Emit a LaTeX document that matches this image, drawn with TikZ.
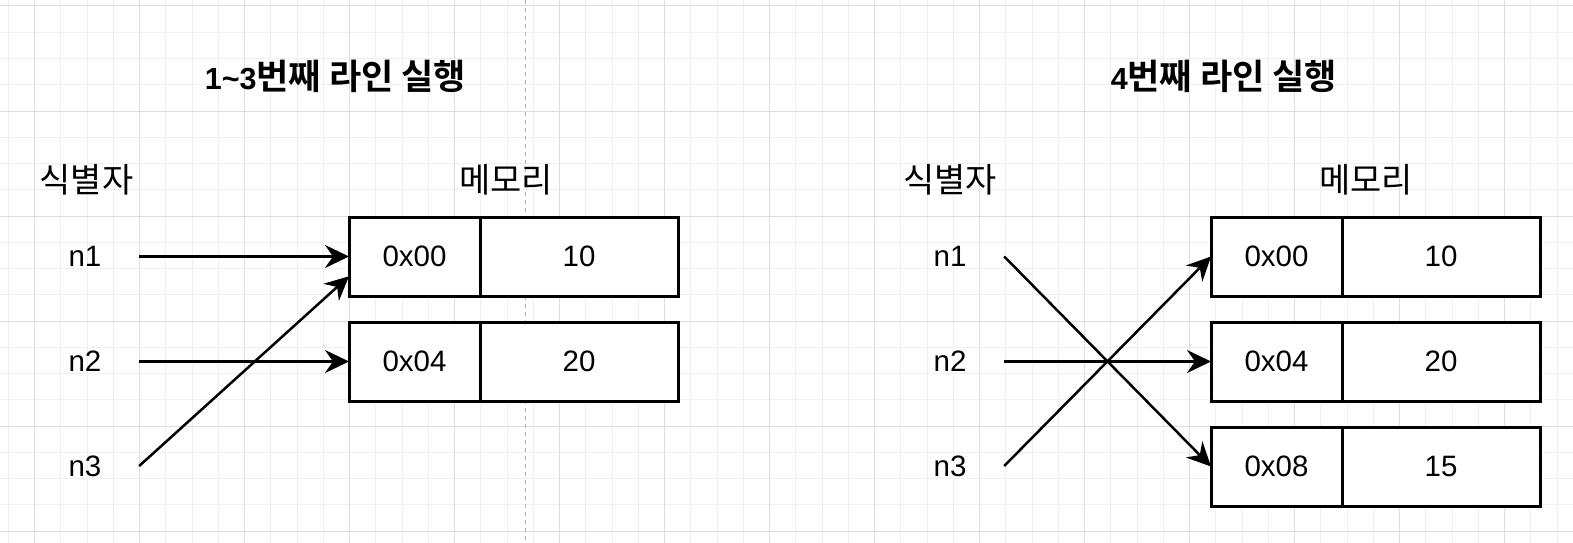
\documentclass[tikz,border=0pt]{standalone}
\usepackage{fontspec}
\setmainfont{Liberation Sans}
\newfontfamily\krfont{Noto Sans CJK KR}[Scale=1.15, BoldFont={Noto Sans CJK KR Bold}]
\usetikzlibrary{positioning,calc,arrows.meta}

\tikzset{
  texte/.style={font=\fontsize{29.5}{34}\selectfont, inner sep=0pt},
  titre/.style={font=\fontsize{30.5}{34}\selectfont\bfseries, inner sep=0pt},
  ident/.style={texte, minimum width=108pt, minimum height=30pt},
  cellule/.style={texte, draw, fill=white, line width=3pt, outer sep=0pt, minimum height=79pt},
  adresse/.style={cellule, minimum width=131pt},
  valeur/.style={cellule, minimum width=198pt},
  fleche/.style={line width=2.5pt, -{Stealth[length=24pt,width=23pt,inset=8pt]}},
  grillefine/.style={draw=black!6, line width=1pt},
  grille/.style={draw=black!13, line width=1pt},
}

\begin{document}
\begin{tikzpicture}[x=1pt, y=-1pt]

% Fond et grille
\fill[white] (0,0) rectangle (1573,543);
\useasboundingbox (0,0) rectangle (1573,543);
\foreach \i in {0,...,59} \draw[grillefine] (8.25+26.25*\i,0) -- ++(0,543);
\foreach \i in {0,...,20} \draw[grillefine] (0,6+26.25*\i) -- ++(1573,0);
\foreach \i in {0,...,14} \draw[grille] (34.25+105*\i,0) -- ++(0,543);
\foreach \i in {0,...,5} \draw[grille] (0,6+105*\i) -- ++(1573,0);

% Saut de page
\draw[black!30, line width=1pt, dash pattern=on 4pt off 4pt] (525.5,0) -- (525.5,543);

% Titres
\node[titre] (titregauche) at (335.5,76) {1\textasciitilde3{\krfont 번째 라인 실행}};
\node[titre] (titredroite) at (1224,76) {4{\krfont 번째 라인 실행}};

% Partie gauche
\node[texte] (gident) at (86.5,180) {\krfont 식별자};
\node[texte] (gmem) at (506,180) {\krfont 메모리};
\node[ident] (gn1) at (85,256.5) {n1};
\node[ident] (gn2) at (85,361.5) {n2};
\node[ident] (gn3) at (85,466) {n3};
\node[adresse] (ga1) at (414.5,256.5) {0x00};
\node[valeur, right=0pt of ga1] (gv1) {10};
\node[adresse] (ga2) at (414.5,361.5) {0x04};
\node[valeur, right=0pt of ga2] (gv2) {20};
\draw[fleche] (gn1.east) -- (ga1.west);
\draw[fleche] (gn2.east) -- (ga2.west);
\draw[fleche] (gn3.east) -- ($(ga1.west)!0.5!(ga1.south west)$);

% Partie droite
\node[texte] (dident) at (950,180) {\krfont 식별자};
\node[texte] (dmem) at (1366,180) {\krfont 메모리};
\node[ident] (dn1) at (950,256.5) {n1};
\node[ident] (dn2) at (950,361.5) {n2};
\node[ident] (dn3) at (950,466) {n3};
\node[adresse] (da1) at (1276.5,256.5) {0x00};
\node[valeur, right=0pt of da1] (dv1) {10};
\node[adresse] (da2) at (1276.5,361.5) {0x04};
\node[valeur, right=0pt of da2] (dv2) {20};
\node[adresse] (da3) at (1276.5,466.5) {0x08};
\node[valeur, right=0pt of da3] (dv3) {15};
\draw[fleche] (dn1.east) -- (da3.west);
\draw[fleche] (dn2.east) -- (da2.west);
\draw[fleche] (dn3.east) -- (da1.west);

\end{tikzpicture}
\end{document}
